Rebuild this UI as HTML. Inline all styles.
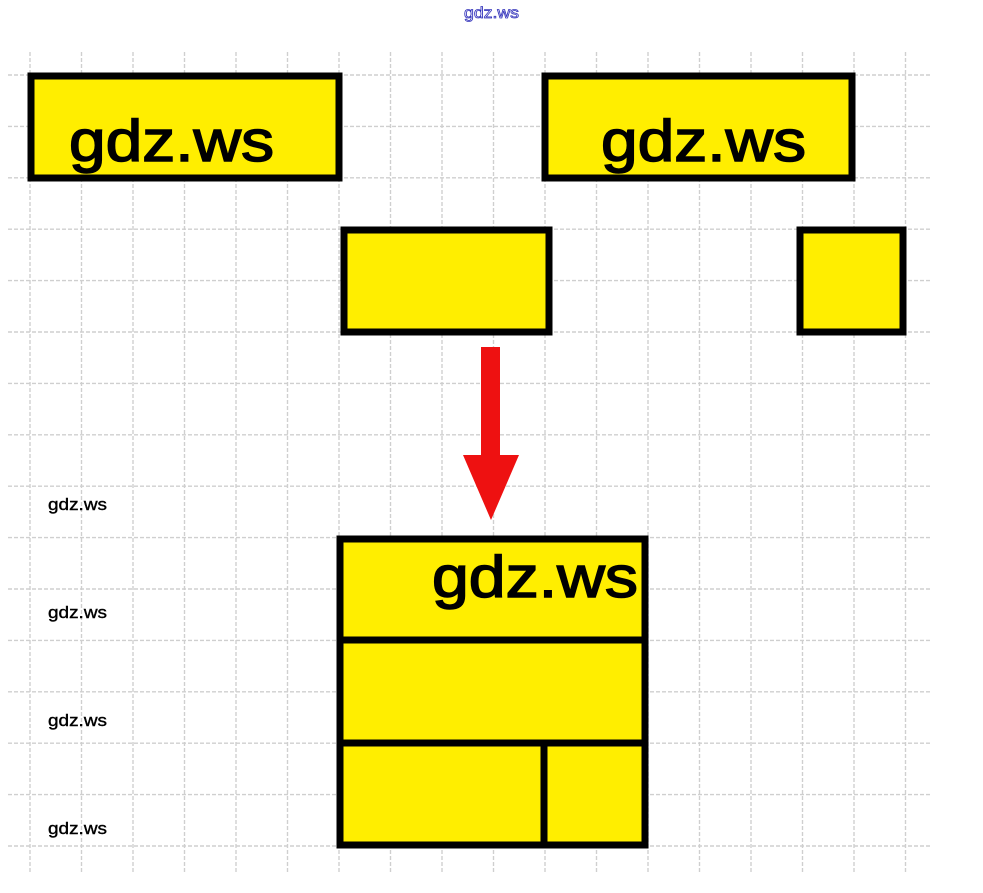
<!DOCTYPE html>
<html><head><style>
html,body{margin:0;padding:0;background:#fff;width:983px;height:893px;overflow:hidden}
svg{display:block}
</style></head><body>
<svg width="983" height="893" xmlns="http://www.w3.org/2000/svg" font-family="Liberation Sans, sans-serif">
<g stroke="#cfcfcf" stroke-width="1.4" stroke-dasharray="4 2">
<line x1="30" y1="52" x2="30" y2="873"/><line x1="81.5" y1="52" x2="81.5" y2="873"/><line x1="133" y1="52" x2="133" y2="873"/><line x1="184.5" y1="52" x2="184.5" y2="873"/><line x1="236" y1="52" x2="236" y2="873"/><line x1="287.5" y1="52" x2="287.5" y2="873"/><line x1="339" y1="52" x2="339" y2="873"/><line x1="390.5" y1="52" x2="390.5" y2="873"/><line x1="442" y1="52" x2="442" y2="873"/><line x1="493.5" y1="52" x2="493.5" y2="873"/><line x1="545" y1="52" x2="545" y2="873"/><line x1="596.5" y1="52" x2="596.5" y2="873"/><line x1="648" y1="52" x2="648" y2="873"/><line x1="699.5" y1="52" x2="699.5" y2="873"/><line x1="751" y1="52" x2="751" y2="873"/><line x1="802.5" y1="52" x2="802.5" y2="873"/><line x1="854" y1="52" x2="854" y2="873"/><line x1="905.5" y1="52" x2="905.5" y2="873"/>
<line x1="8" y1="75" x2="930" y2="75"/><line x1="8" y1="126.4" x2="930" y2="126.4"/><line x1="8" y1="177.8" x2="930" y2="177.8"/><line x1="8" y1="229.2" x2="930" y2="229.2"/><line x1="8" y1="280.6" x2="930" y2="280.6"/><line x1="8" y1="332" x2="930" y2="332"/><line x1="8" y1="383.4" x2="930" y2="383.4"/><line x1="8" y1="434.8" x2="930" y2="434.8"/><line x1="8" y1="486.2" x2="930" y2="486.2"/><line x1="8" y1="537.6" x2="930" y2="537.6"/><line x1="8" y1="589" x2="930" y2="589"/><line x1="8" y1="640.4" x2="930" y2="640.4"/><line x1="8" y1="691.8" x2="930" y2="691.8"/><line x1="8" y1="743.2" x2="930" y2="743.2"/><line x1="8" y1="794.6" x2="930" y2="794.6"/><line x1="8" y1="846" x2="930" y2="846"/>
</g>
<g fill="#ffee00" stroke="#000" stroke-width="7">
<rect x="31" y="76" width="308" height="102"/>
<rect x="545" y="76" width="307" height="102"/>
<rect x="344" y="230" width="205" height="102"/>
<rect x="800" y="230" width="103" height="102"/>
<rect x="340" y="539" width="305" height="306"/>
<line x1="340" y1="640" x2="645" y2="640"/>
<line x1="340" y1="743" x2="645" y2="743"/>
<line x1="544" y1="743" x2="544" y2="845"/>
</g>
<polygon points="481,347 500,347 500,455 519,455 491,520 463,455 481,455" fill="#ee1111"/>
<g font-size="58" fill="#000" stroke="#000" stroke-width="1.5">
<text x="69" y="161" textLength="205" lengthAdjust="spacingAndGlyphs">gdz.ws</text>
<text x="601" y="161" textLength="205" lengthAdjust="spacingAndGlyphs">gdz.ws</text>
<text x="432" y="597" textLength="206" lengthAdjust="spacingAndGlyphs">gdz.ws</text>
</g>
<g font-size="17" fill="#000" stroke="#000" stroke-width="0.4">
<text x="48" y="510" textLength="59" lengthAdjust="spacingAndGlyphs">gdz.ws</text>
<text x="48" y="618" textLength="59" lengthAdjust="spacingAndGlyphs">gdz.ws</text>
<text x="48" y="726" textLength="59" lengthAdjust="spacingAndGlyphs">gdz.ws</text>
<text x="48" y="834" textLength="59" lengthAdjust="spacingAndGlyphs">gdz.ws</text>
</g>
<text x="464" y="18" font-size="16" fill="#fff" stroke="#3333bb" stroke-width="0.8" textLength="55" lengthAdjust="spacingAndGlyphs">gdz.ws</text>
</svg>
</body></html>
